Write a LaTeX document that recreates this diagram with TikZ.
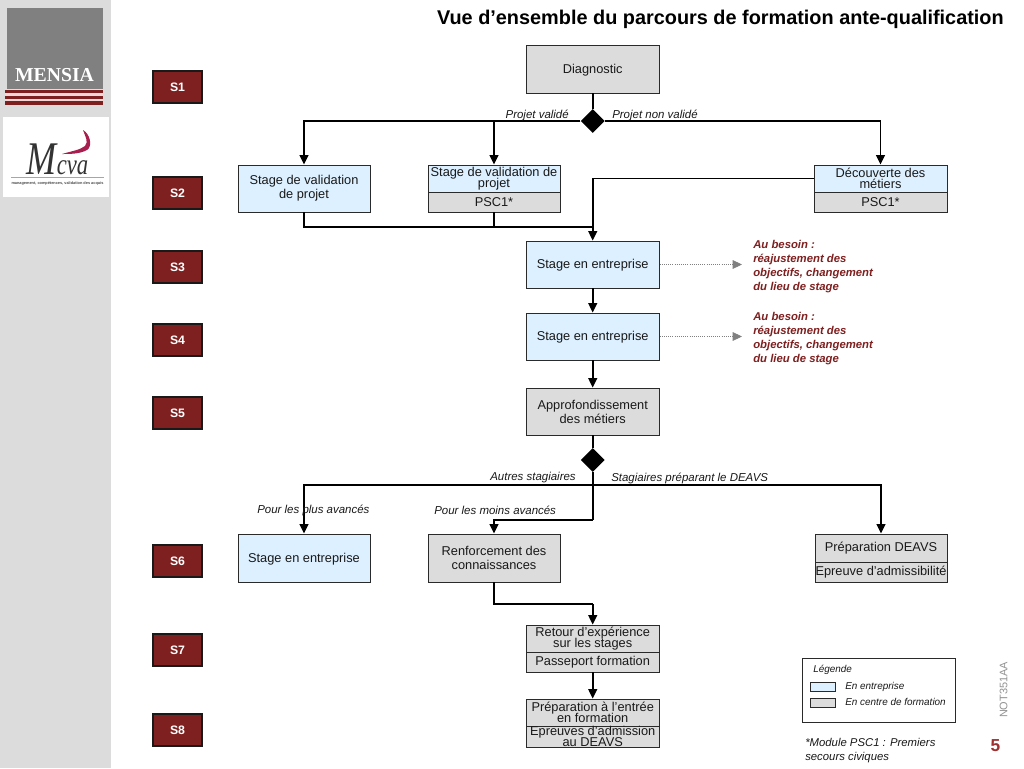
\documentclass[tikz,border=0pt]{standalone}
\usepackage{fontspec}
\setmainfont{Liberation Sans}
\newfontfamily\serifface{Liberation Serif}
\usetikzlibrary{arrows.meta,shapes.geometric}
\definecolor{sidegray}{HTML}{DCDCDC}
\definecolor{logogray}{HTML}{808080}
\definecolor{darkred}{HTML}{7F2020}
\definecolor{bluefill}{HTML}{DDF0FF}
\definecolor{grayfill}{HTML}{DCDCDC}
\definecolor{linecol}{HTML}{2A2A2A}
\definecolor{crimson}{HTML}{A81E4E}
\definecolor{palepink}{HTML}{F0D8D8}
\definecolor{pagered}{HTML}{A03030}
\lineskiplimit=-10pt
\tikzset{
  x=0.75pt,y=-0.75pt,
  boxbase/.style={draw=linecol,line width=0.65pt,inner sep=0pt,align=center,text=black!90,
    font=\fontsize{9.6}{10.6}\selectfont},
  bluebox/.style={boxbase,fill=bluefill},
  graybox/.style={boxbase,fill=grayfill},
  tight/.style={font=\fontsize{9.6}{8.2}\selectfont},
  lowered/.style={execute at begin node={\rule{0pt}{8.6pt}}},
  sbox/.style={draw=black!90,line width=1.3pt,fill=darkred,text=white,inner sep=0pt,
    font=\fontsize{9.2}{11}\selectfont\bfseries},
  choice/.style={diamond,aspect=1,fill=black,inner sep=0pt,minimum width=18pt,minimum height=18pt},
  flow/.style={draw=black,line width=1.25pt},
  flowarrow/.style={flow,-{Triangle[length=7pt,width=6.5pt]}},
  dotarrow/.style={draw=gray,line width=0.6pt,densely dotted,-{Triangle[length=7pt,width=6.5pt,fill=gray]}},
  branch/.style={font=\fontsize{8.6}{10}\selectfont\itshape,inner sep=0pt,text=black!90},
  note/.style={font=\fontsize{8.5}{10.5}\selectfont\bfseries\itshape,text=darkred,align=left,inner sep=0pt,anchor=north west},
  legendtext/.style={font=\fontsize{7.45}{9}\selectfont\itshape,inner sep=0pt,anchor=west,text=black!90},
}
% name, x1, y1, x2, y2, style, text
\newcommand{\pxbox}[7]{\node[#6,minimum width=(#4-#2)*0.75pt,minimum height=(#5-#3)*0.75pt] (#1) at ({(#2+#4)/2},{(#3+#5)/2}) {#7};}
\begin{document}
\begin{tikzpicture}
\useasboundingbox (0,0) rectangle (1024,768);
\fill[white] (0,0) rectangle (1024,768);
% side bar and logos
\fill[sidegray] (0,0) rectangle (111,768);
\fill[logogray] (7,8) rectangle (103,89);
\fill[palepink] (5,89) rectangle (103,105);
\fill[darkred] (5,90) rectangle (103,92.5);
\fill[darkred] (5,96) rectangle (103,98.5);
\fill[darkred] (5,101) rectangle (103,104.5);
\node[text=white,inner sep=0pt,font=\serifface\fontsize{14.8}{15}\selectfont\bfseries] (mensia) at (54.5,75.5) {MENSIA};
\fill[white] (3,117) rectangle (109,197);
\fill[crimson] (83,130) .. controls (90,134) and (93,146) .. (87,150) .. controls (80,154) and (70,154) .. (62,154)
  .. controls (72,151) and (80,150) .. (85,146) .. controls (89,142) and (85,136) .. (83,130) -- cycle;
\node[anchor=base,yscale=1.3,transform shape,text=black!80,inner sep=0pt,font=\serifface\itshape] (mcva) at (57.5,174) {\fontsize{27}{27}\selectfont M\fontsize{17}{17}\selectfont cva};
\fill[crimson!50] (11,177) rectangle (104,178);
\node[text=black!70,inner sep=0pt,font=\fontsize{2.9}{3}\selectfont\bfseries] (mcvasub) at (57.5,183) {management, compétences, validation des acquis};
% title
\node[anchor=east,inner sep=0pt,font=\fontsize{14.9}{16}\selectfont\bfseries] (title) at (1004,19.5) {Vue d’ensemble du parcours de formation ante-qualification};
% session tags
\pxbox{t1}{153}{71}{202}{103}{sbox}{S1}
\pxbox{t2}{153}{177}{202}{209}{sbox}{S2}
\pxbox{t3}{153}{251}{202}{283}{sbox}{S3}
\pxbox{t4}{153}{324}{202}{356}{sbox}{S4}
\pxbox{t5}{153}{397}{202}{429}{sbox}{S5}
\pxbox{t6}{153}{545}{202}{577}{sbox}{S6}
\pxbox{t7}{153}{634}{202}{666}{sbox}{S7}
\pxbox{t8}{153}{714}{202}{746}{sbox}{S8}
% boxes
\pxbox{diag}{526.2}{45}{659.2}{93}{graybox,lowered}{Diagnostic}
\node[choice] (d1) at (592.7,121) {};
\pxbox{val}{238}{165}{370}{212}{bluebox,lowered}{Stage de validation\\de projet}
\pxbox{valb}{428}{165}{560}{192}{bluebox,tight}{Stage de validation de\\projet}
\pxbox{valc}{428}{192}{560}{212}{graybox,tight}{PSC1*}
\pxbox{deca}{814}{165}{947}{192}{bluebox,tight}{Découverte des\\métiers}
\pxbox{decb}{814}{192}{947}{212}{graybox,tight}{PSC1*}
\pxbox{se1}{526.2}{241}{659.2}{288}{bluebox,lowered}{Stage en entreprise}
\pxbox{se2}{526.2}{313}{659.2}{360}{bluebox,lowered}{Stage en entreprise}
\pxbox{appro}{526.2}{388}{659.2}{435}{graybox}{Approfondissement\\des métiers}
\node[choice] (d2) at (592.7,460) {};
\pxbox{se3}{238}{534}{370}{582}{bluebox,lowered}{Stage en entreprise}
\pxbox{renf}{428}{534}{560}{582}{graybox,lowered}{Renforcement des\\connaissances}
\pxbox{deavs}{815}{534}{947}{562}{graybox}{Préparation DEAVS}
\pxbox{adm}{815}{562}{947}{582}{graybox}{Epreuve d’admissibilité}
\pxbox{ret}{526.2}{625}{659.2}{652}{graybox,tight}{Retour d’expérience\\sur les stages}
\pxbox{pass}{526.2}{652}{659.2}{672}{graybox}{Passeport formation}
\pxbox{prep}{526.2}{699}{659.2}{726}{graybox,tight}{Préparation à l’entrée\\en formation}
\pxbox{epr}{526.2}{726}{659.2}{747}{graybox,tight}{Epreuves d’admission\\au DEAVS}
% junctions
\coordinate (j1) at (592.7,227);
\coordinate (j2) at (592.7,485);
\coordinate (j3) at (592.7,520);
\coordinate (j4) at (592.7,604);
\coordinate (n1) at (742,264.5);
\coordinate (n2) at (742,336.5);
% connectors
\draw[flow] (diag) -- (d1);
\draw[flowarrow] (d1.west) -| (val.north);
\draw[flowarrow] (d1.west) -| (valb.north);
\draw[flowarrow] (d1.east) -| (deca.north);
\draw[flow] (val.south) |- (j1);
\draw[flow] (valc.south) |- (j1);
\draw[flowarrow] (deca.west) -| (se1.north);
\draw[flowarrow] (se1) -- (se2);
\draw[flowarrow] (se2) -- (appro);
\draw[dotarrow] (se1.east) -- (n1);
\draw[dotarrow] (se2.east) -- (n2);
\draw[flow] (appro) -- (d2);
\draw[flow] (d2.south) -- (j3);
\draw[flowarrow] (j2) -| (se3.north);
\draw[flowarrow] (j2) -| (deavs.north);
\draw[flowarrow] (j3) -| (renf.north);
\draw[flow] (renf.south) |- (j4);
\draw[flowarrow] (j4) -- (ret.north);
\draw[flowarrow] (pass) -- (prep);
% branch labels
\node[branch,anchor=east] (l1) at (569,115) {Projet validé};
\node[branch,anchor=west] (l2) at (612,115) {Projet non validé};
\node[branch,anchor=east] (l3) at (576,478) {Autres stagiaires};
\node[branch,anchor=west] (l4) at (611,478) {Stagiaires préparant le DEAVS};
\node[branch,anchor=west] (l5) at (257,510) {Pour les plus avancés};
\node[branch,anchor=west] (l6) at (434,510) {Pour les moins avancés};
% notes
\node[note] (r1) at (753,240) {Au besoin :\\réajustement des\\objectifs, changement\\du lieu de stage};
\node[note] (r2) at (753,312) {Au besoin :\\réajustement des\\objectifs, changement\\du lieu de stage};
% legend
\draw[draw=linecol,line width=0.65pt,fill=white] (802,658) rectangle (955,722);
\node[legendtext] (lg) at (813,670) {Légende};
\pxbox{lga}{810}{682}{835}{691}{bluebox}{}
\pxbox{lgb}{810}{698}{835}{707}{graybox}{}
\node[legendtext] (lga-t) at (845,686.5) {En entreprise};
\node[legendtext] (lgb-t) at (845,702) {En centre de formation};
% footer
\node[anchor=north west,align=left,inner sep=0pt,text=black!90,font=\fontsize{8.5}{10.5}\selectfont\itshape] (foot) at (805,738) {*Module PSC1 : Premiers\\secours civiques};
\node[rotate=90,text=gray!85,inner sep=0pt,font=\fontsize{8.2}{9}\selectfont] (code) at (1003.5,690) {NOT351AA};
\node[text=pagered,inner sep=0pt,font=\fontsize{13}{14}\selectfont\bfseries] (page) at (995.5,746) {5};
\end{tikzpicture}
\end{document}
